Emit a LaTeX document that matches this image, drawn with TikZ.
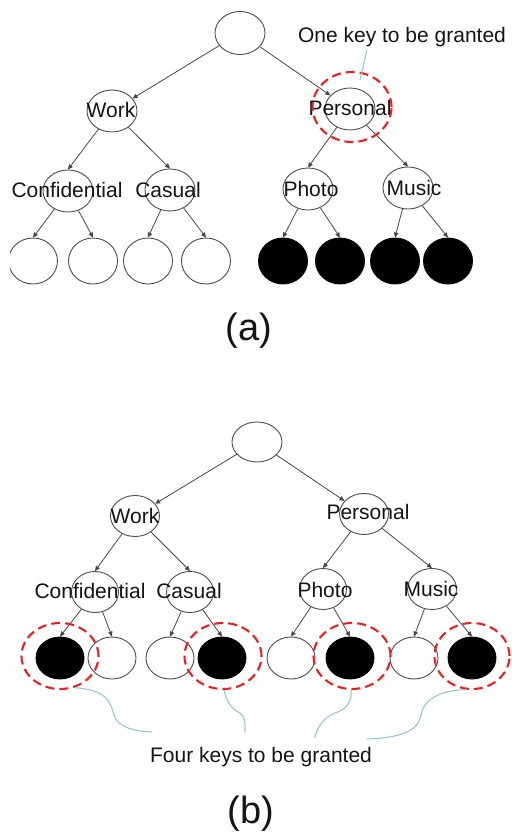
\documentclass[tikz,border=0pt]{standalone}
\usepackage{fontspec}
\setmainfont{Liberation Sans}
\usetikzlibrary{shapes.geometric,arrows.meta}
\definecolor{leadc}{RGB}{150,200,210}
\definecolor{keyred}{RGB}{240,30,30}
\tikzset{
  ell/.style={ellipse, draw=black!70, line width=0.9pt, minimum width=50pt, minimum height=42pt, inner sep=0pt},
  leaf/.style={ell, minimum width=49pt, minimum height=46pt},
  leafb/.style={ell, minimum width=48pt, minimum height=42pt},
  blk/.style={fill=black, draw=black},
  arr/.style={-{Triangle[length=5pt,width=4.5pt]}, draw=black!72, line width=0.8pt},
  keyring/.style={ellipse, draw=keyred, line width=2.1pt, dash pattern=on 9pt off 5pt, inner sep=0pt},
  lead/.style={draw=leadc, line width=1.1pt},
  lbl/.style={font=\fontsize{21}{25}\selectfont, text=black!92, inner sep=0pt},
  captxt/.style={font=\fontsize{38}{44}\selectfont, text=black!92, inner sep=0pt, anchor=base}
}
\begin{document}
\begin{tikzpicture}[x=1pt,y=-1pt]
\useasboundingbox (0,0) rectangle (511,832);
% ================= (a) =================
\node[ell, minimum height=43pt] (rA) at (240,33) {};
\node[ell] (wA) at (112,111) {};
\node[ell] (pA) at (350,109) {};
\node[ell] (cA) at (68,191) {};
\node[ell] (sA) at (170,190) {};
\node[ell] (hA) at (308,189) {};
\node[ell] (mA) at (408,188) {};
\begin{scope}
\clip (10,230) rectangle (70,295);
\node[leaf] (a1) at (33,261) {};
\end{scope}
\node[leaf] (a2) at (93,261) {};
\node[leaf] (a3) at (148,261) {};
\node[leaf] (a4) at (206,261) {};
\node[leaf,blk] (a5) at (283,261) {};
\node[leaf,blk] (a6) at (340,261) {};
\node[leaf,blk] (a7) at (395,261) {};
\node[leaf,blk] (a8) at (448,261) {};
\node[lbl] (twA) at (111,110) {Work};
\node[lbl] (tpA) at (350,108) {Personal};
\node[lbl] (tcA) at (67,190) {Confidential};
\node[lbl] (tsA) at (168,190) {Casual};
\node[lbl] (thA) at (311,189) {Photo};
\node[lbl] (tmA) at (414,188) {Music};
\draw[arr] (rA) -- (wA);
\draw[arr] (rA) -- (pA);
\draw[arr] (wA) -- (cA.north);
\draw[arr] (wA) -- (sA.north);
\draw[arr] (pA) -- (hA.north);
\draw[arr] (pA) -- (mA.north);
\draw[arr] (cA) -- (a1.north);
\draw[arr] (cA) -- (a2.north);
\draw[arr] (sA) -- (a3.north);
\draw[arr] (sA) -- (a4.north);
\draw[arr] (hA) -- (a5.north);
\draw[arr] (hA) -- (a6.north);
\draw[arr] (mA) -- (a7.north);
\draw[arr] (mA) -- (a8.north);
\node[keyring, minimum width=79pt, minimum height=70pt] (kA) at (352,107) {};
\node[lbl] (oneKey) at (402,37) {One key to be granted};
\coordinate (kAend) at (360,80);
\draw[lead] ([xshift=-35pt,yshift=-3pt]oneKey.south) -- (kAend);
\node[captxt] (capA) at (249,340) {(a)};
% ================= (b) =================
\node[ell, minimum width=50pt, minimum height=40pt] (rB) at (257,442) {};
\node[ell, minimum width=49pt, minimum height=41pt] (wB) at (135,516) {};
\node[ell, minimum width=49pt, minimum height=41pt] (pB) at (364,514) {};
\node[ell, minimum width=47pt, minimum height=41pt] (cB) at (95,592) {};
\node[ell, minimum width=47pt, minimum height=41pt] (sB) at (190,592) {};
\node[ell, minimum width=47pt, minimum height=41pt] (hB) at (323,589) {};
\node[ell, minimum width=49pt, minimum height=41pt] (mB) at (432,589) {};
\node[leafb,blk] (b1) at (60,658) {};
\node[leafb] (b2) at (112,658) {};
\node[leafb] (b3) at (170,658) {};
\node[leafb,blk] (b4) at (222,658) {};
\node[leafb] (b5) at (291,658) {};
\node[leafb,blk] (b6) at (350,658) {};
\node[leafb] (b7) at (414,658) {};
\node[leafb,blk] (b8) at (472,658) {};
\node[lbl] (twB) at (135,516) {Work};
\node[lbl] (tpB) at (368,512) {Personal};
\node[lbl] (tcB) at (90,591) {Confidential};
\node[lbl] (tsB) at (189,591) {Casual};
\node[lbl] (thB) at (325,590) {Photo};
\node[lbl] (tmB) at (431,589) {Music};
\draw[arr] (rB) -- (wB);
\draw[arr] (rB) -- (pB);
\draw[arr] (wB) -- (cB.north);
\draw[arr] (wB) -- (sB.north);
\draw[arr] (pB) -- (hB.north);
\draw[arr] (pB) -- (mB.north);
\draw[arr] (cB) -- (b1.north);
\draw[arr] (cB) -- (b2.north);
\draw[arr] (sB) -- (b3.north);
\draw[arr] (sB) -- (b4.north);
\draw[arr] (hB) -- (b5.north);
\draw[arr] (hB) -- (b6.north);
\draw[arr] (mB) -- (b7.north);
\draw[arr] (mB) -- (b8.north);
\node[keyring, minimum width=77pt, minimum height=66pt] (kB1) at (60,656) {};
\node[keyring, minimum width=77pt, minimum height=66pt] (kB2) at (223,656) {};
\node[keyring, minimum width=77pt, minimum height=66pt] (kB3) at (352,656) {};
\node[keyring, minimum width=75pt, minimum height=66pt] (kB4) at (472,656) {};
\node[lbl] (fourKeys) at (261,757) {Four keys to be granted};
\coordinate (f1) at (152,732);
\coordinate (f2) at (245,732);
\coordinate (f3) at (315,738);
\coordinate (f4) at (367,739);
\draw[lead] (kB1.-65) .. controls (105,690) and (110,700) .. (114,715) .. controls (118,728) and (135,731) .. (f1);
\draw[lead] (kB2.-88) .. controls (226,700) and (230,708) .. (240,713) .. controls (246,717) and (245,725) .. (f2);
\draw[lead] (kB3.-92) .. controls (353,702) and (345,710) .. (335,713) .. controls (322,718) and (316,730) .. (f3);
\draw[lead] (kB4.-100) .. controls (440,690) and (423,700) .. (421,715) .. controls (418,735) and (390,738) .. (f4);
\node[captxt] (capB) at (251,823) {(b)};
\end{tikzpicture}
\end{document}
